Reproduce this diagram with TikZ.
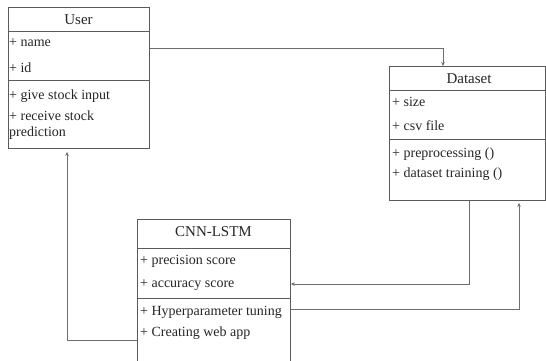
\documentclass[tikz,border=0pt]{standalone}
\usepackage{fontspec}
\setmainfont{Liberation Serif}
\usetikzlibrary{arrows.meta}
\definecolor{boxline}{HTML}{5A5A5A}
\definecolor{conline}{HTML}{6E6E6E}
\definecolor{txt}{HTML}{262626}
\tikzset{
  umlbox/.style={draw=boxline, line width=0.9pt, anchor=north west, inner sep=0pt},
  sepline/.style={draw=boxline, line width=0.9pt},
  item/.style={anchor=west, inner sep=0pt, text=txt, font=\fontsize{14}{16}\selectfont},
  title/.style={anchor=center, inner sep=0pt, text=txt, font=\fontsize{15}{17}\selectfont},
  conn/.style={draw=conline, line width=0.8pt, -{Stealth[length=4pt,width=3.5pt]}},
}
\begin{document}
\begin{tikzpicture}[x=1pt,y=-1pt]
\useasboundingbox (0,0) rectangle (546,360);
\fill[white] (0,0) rectangle (546,360);
\clip (0,0) rectangle (546,360);
% User
\node[umlbox, minimum width=141pt, minimum height=141pt] (user) at (8,7) {};
\draw[sepline] (8,31) -- (149,31);
\draw[sepline] (8,80) -- (149,80);
\node[title] (ut) at (78.5,20) {User};
\node[item] (u1) at (9,43) {+ name};
\node[item] (u2) at (9,68) {+ id};
\node[item] (u3) at (9,96) {+ give stock input};
\node[item] (u4) at (9,116) {+ receive stock};
\node[item] (u5) at (9,133) {prediction};
% Dataset
\node[umlbox, minimum width=156pt, minimum height=134pt] (ds) at (389,66) {};
\draw[sepline] (389,90) -- (545,90);
\draw[sepline] (389,139) -- (545,139);
\node[title] (dt) at (469,79) {Dataset};
\node[item] (d1) at (392,102) {+ size};
\node[item] (d2) at (392,126) {+ csv file};
\node[item] (d3) at (392,154) {+ preprocessing ()};
\node[item] (d4) at (392,174) {+ dataset training ()};
% CNN-LSTM
\node[umlbox, minimum width=153pt, minimum height=150pt] (cnn) at (137,219) {};
\draw[sepline] (137,248) -- (290,248);
\draw[sepline] (137,298) -- (290,298);
\node[title] (ct) at (213.5,232) {CNN-LSTM};
\node[item] (c1) at (140,261) {+ precision score};
\node[item] (c2) at (140,285) {+ accuracy score};
\node[item] (c3) at (140,312) {+ Hyperparameter tuning};
\node[item] (c4) at (140,333) {+ Creating web app};
% connector helper coordinates
\coordinate (k1) at (443,48);
\coordinate (k2) at (469,284);
\coordinate (k3) at (519,309);
\coordinate (k4) at (67,340);
% connectors
\draw[conn] (user.east |- k1) -- (k1) -- (k1 |- ds.north);
\draw[conn] (ds.south -| k2) -- (k2) -- (cnn.east |- k2);
\draw[conn] (cnn.east |- k3) -- (k3) -- ([yshift=-2pt]ds.south -| k3);
\draw[conn] (cnn.west |- k4) -- (k4) -- ([yshift=-3pt]user.south -| k4);
\end{tikzpicture}
\end{document}
